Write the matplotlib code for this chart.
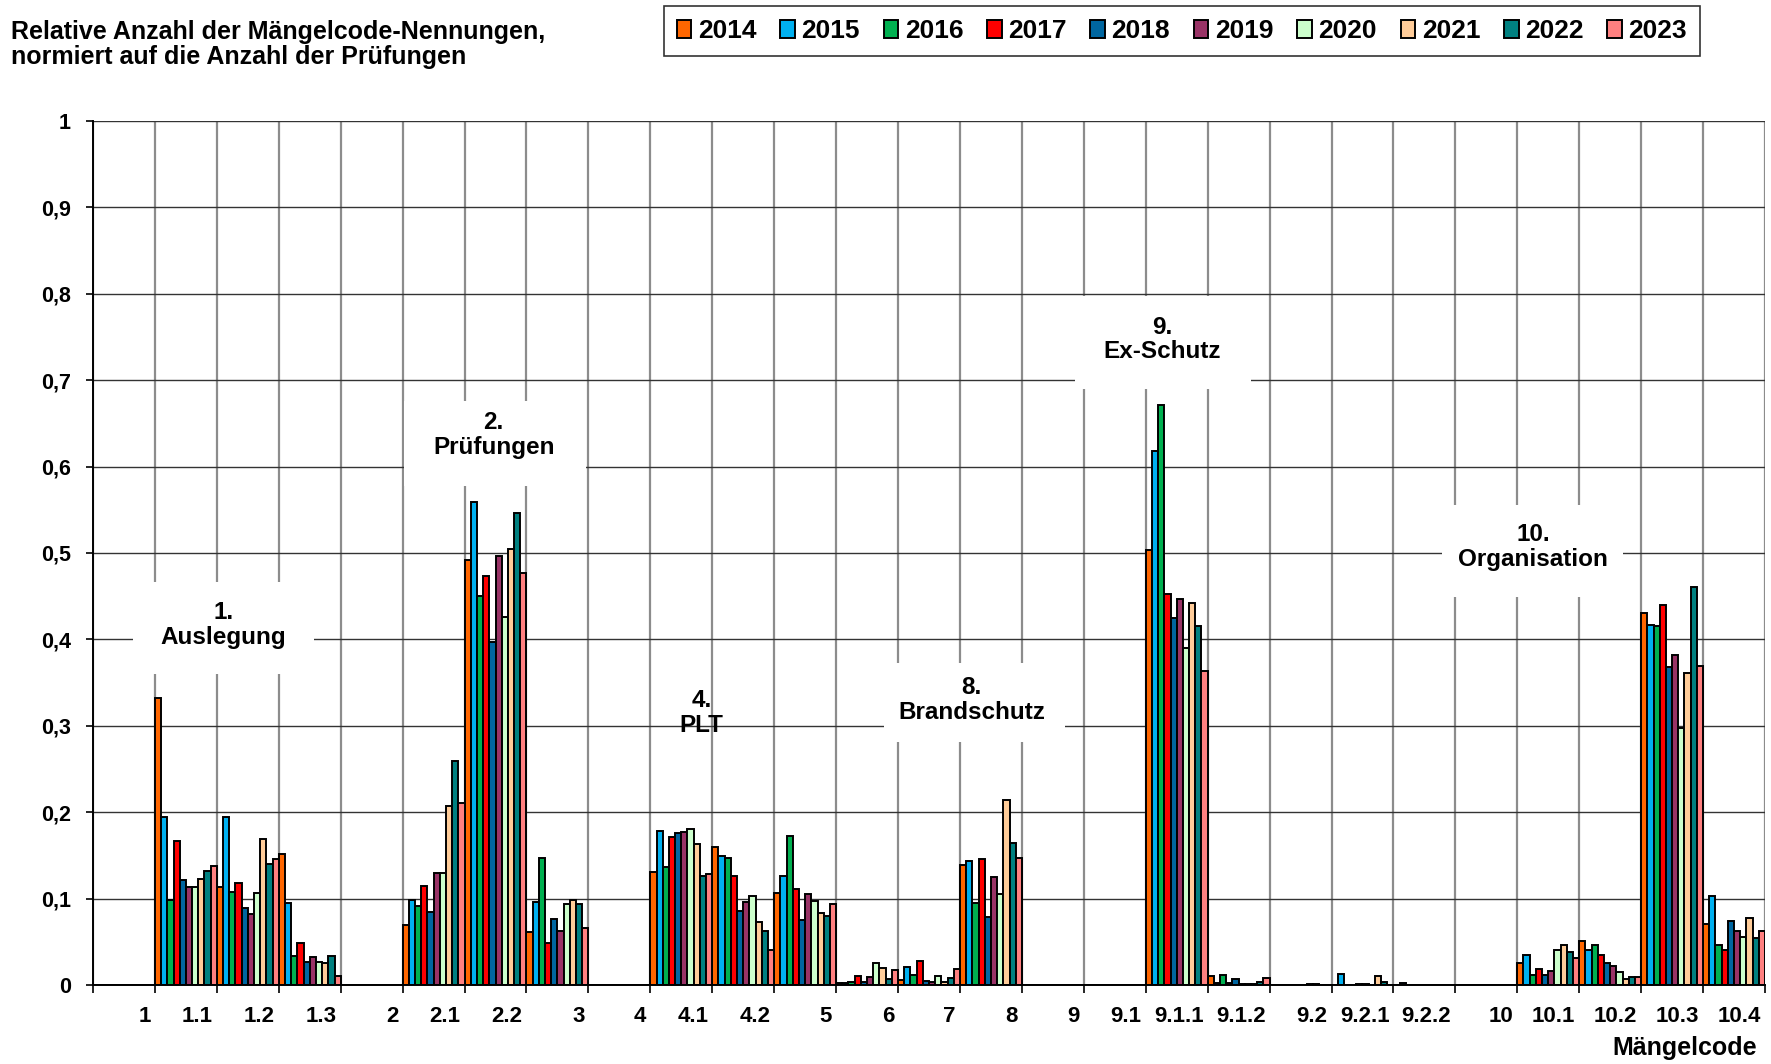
import numpy as np
import matplotlib
matplotlib.use('Agg')
import matplotlib.pyplot as plt
from matplotlib.patches import Rectangle

plt.rcParams['font.family'] = ['Liberation Sans', 'DejaVu Sans']
plt.rcParams['font.weight'] = 'bold'

# Mängelcodes (x-Achse)
codes = ['1', '1.1', '1.2', '1.3', '2', '2.1', '2.2', '3', '4', '4.1', '4.2',
         '5', '6', '7', '8', '9', '9.1', '9.1.1', '9.1.2', '9.2', '9.2.1',
         '9.2.2', '10', '10.1', '10.2', '10.3', '10.4']

years = ['2014', '2015', '2016', '2017', '2018', '2019', '2020', '2021', '2022', '2023']

# relative Anzahl je Jahr, in Reihenfolge von codes
v2014 = [0, .332, .113, .152, 0, .069, .492, .061, 0, .131, .160, .106, .002, .006,
         .139, 0, 0, .504, .010, 0, 0, 0, 0, .026, .051, .431, .071]
v2015 = [0, .194, .195, .095, 0, .098, .559, .096, 0, .178, .149, .126, .002, .021,
         .144, 0, 0, .618, .002, 0, .013, .002, 0, .035, .041, .417, .103]
v2016 = [0, .098, .108, .033, 0, .091, .450, .147, 0, .137, .147, .173, .004, .012,
         .095, 0, 0, .671, .011, 0, 0, 0, 0, .012, .046, .416, .046]
v2017 = [0, .167, .118, .049, 0, .115, .473, .049, 0, .171, .126, .111, .010, .028,
         .146, 0, 0, .453, .002, 0, 0, 0, 0, .018, .035, .440, .041]
v2018 = [0, .121, .089, .027, 0, .085, .397, .076, 0, .176, .086, .075, .004, .005,
         .079, 0, 0, .425, .007, 0, .001, 0, 0, .012, .026, .368, .074]
v2019 = [0, .113, .082, .032, 0, .130, .496, .062, 0, .177, .096, .105, .009, .003,
         .125, 0, 0, .447, .001, 0, .001, 0, 0, .016, .022, .382, .062]
v2020 = [0, .114, .106, .027, 0, .130, .426, .094, 0, .180, .103, .097, .026, .010,
         .105, 0, 0, .390, .001, .001, 0, 0, 0, .041, .015, .297, .055]
v2021 = [0, .123, .169, .026, 0, .207, .505, .098, 0, .163, .073, .083, .020, .004,
         .214, 0, 0, .442, .001, .001, .010, 0, 0, .046, .007, .361, .078]
v2022 = [0, .132, .140, .034, 0, .259, .546, .094, 0, .126, .063, .080, .007, .008,
         .164, 0, 0, .416, .004, 0, .003, 0, 0, .038, .009, .461, .054]
v2023 = [0, .138, .146, .010, 0, .211, .477, .066, 0, .129, .041, .094, .017, .019,
         .147, 0, 0, .363, .008, 0, 0, 0, 0, .031, .009, .369, .062]

series = [v2014, v2015, v2016, v2017, v2018, v2019, v2020, v2021, v2022, v2023]

colors = ['#FF6600', '#00B0F0', '#00B050', '#FF0000', '#0066A0',
          '#993366', '#CCFFCC', '#FFCC99', '#008080', '#FF8080']

# Kapitel-Beschriftungen: (Text, x, y, Box x0, Box x1, Box y0, Box y1)
chapters = [
    ('1.\nAuslegung', 2.11, 0.417, 0.65, 3.57, 0.36, 0.466),
    ('2.\nPrüfungen', 6.47, 0.637, 5.03, 7.96, 0.578, 0.676),
    ('4.\nPLT', 9.83, 0.315, None, None, None, None),
    ('8.\nBrandschutz', 14.19, 0.33, 12.78, 15.7, 0.281, 0.373),
    ('9.\nEx-Schutz', 17.27, 0.747, 15.86, 18.7, 0.69, 0.797),
    ('10.\nOrganisation', 23.26, 0.507, 21.78, 24.7, 0.449, 0.556),
]

fig = plt.figure(figsize=(17.71, 10.64), dpi=100)
ax = fig.add_axes([93 / 1771, 79 / 1064, 1672 / 1771, 864 / 1064])

n = len(codes)
bw = 0.1
x0 = np.arange(n)
for j, (vals, col, yr) in enumerate(zip(series, colors, years)):
    ax.bar(x0 + bw * (j + 0.5), vals, width=bw, color=col, edgecolor='black',
           linewidth=1.4, label=yr, zorder=2)

ax.set_xlim(0, n)
ax.set_ylim(0, 1)
ax.set_axisbelow(True)

# Gitter: senkrecht grau, waagrecht dunkel
for k in range(n + 1):
    ax.axvline(k, color='#8C8C8C', linewidth=1.6, zorder=0.5)
for v in np.arange(0.1, 1.01, 0.1):
    ax.axhline(v, color='#333333', linewidth=1.0, zorder=0.6)

for s in ['top', 'right']:
    ax.spines[s].set_visible(False)
ax.spines['left'].set_linewidth(1.4)
ax.spines['bottom'].set_linewidth(1.4)
ax.spines['left'].set_zorder(3)
ax.spines['bottom'].set_zorder(3)

yt = np.round(np.arange(0, 1.01, 0.1), 1)
ylabels = ['0' if v == 0 else '1' if v == 1 else f'{v:.1f}'.replace('.', ',') for v in yt]
ax.set_yticks(yt)
ax.set_yticklabels(ylabels, fontsize=15.5, fontweight='bold')
ax.tick_params(axis='y', direction='out', length=5, width=1.2, pad=11)

ax.set_xticks(np.arange(n + 1))
ax.set_xticklabels([])
ax.tick_params(axis='x', direction='out', length=6, width=1.2)

for k, c in enumerate(codes):
    ax.annotate(c, xy=(k + 1, 0), xycoords=('data', 'axes fraction'),
                xytext=(-4, -32), textcoords='offset pixels',
                ha='right', va='center', fontsize=16, fontweight='bold')

for txt, tx, ty, bx0, bx1, by0, by1 in chapters:
    if bx0 is not None:
        ax.add_patch(Rectangle((bx0, by0), bx1 - bx0, by1 - by0,
                               facecolor='white', edgecolor='none', zorder=1))
    ax.text(tx, ty, txt, ha='center', va='center', fontsize=17.5,
            fontweight='bold', linespacing=1.1, zorder=3)

fig.text(11 / 1771, 1 - 20 / 1064,
         'Relative Anzahl der Mängelcode-Nennungen,\nnormiert auf die Anzahl der Prüfungen',
         ha='left', va='top', fontsize=18, fontweight='bold', linespacing=1.05)

fig.text(1757 / 1771, 1 - 1048 / 1064, 'Mängelcode', ha='right', va='center',
         fontsize=18, fontweight='bold')

leg = fig.legend(loc='center', bbox_to_anchor=(1182 / 1771, 1 - 31 / 1064), ncol=10,
                 frameon=True, fancybox=False, edgecolor='black',
                 prop={'weight': 'bold', 'size': 19},
                 handlelength=0.55, handleheight=0.7, handletextpad=0.25,
                 columnspacing=0.9, borderpad=0.5)
leg.get_frame().set_linewidth(1.2)

fig.savefig('out.png', dpi=100, facecolor='white')
